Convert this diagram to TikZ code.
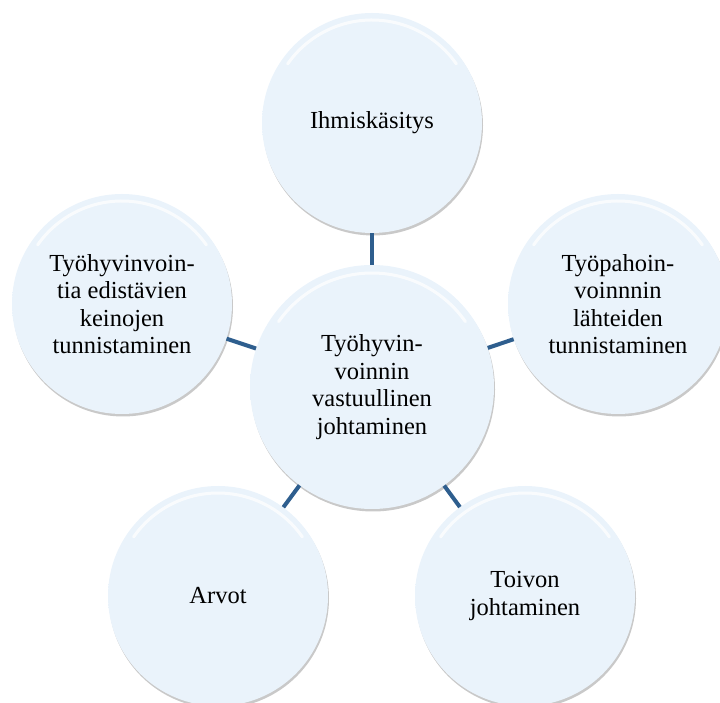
\documentclass[tikz,border=0pt]{standalone}
\usepackage{fontspec}
\setmainfont{Liberation Serif}
\usetikzlibrary{shadows}
\definecolor{cfill}{RGB}{234,243,251}
\definecolor{cedge}{RGB}{140,155,178}
\definecolor{clink}{RGB}{46,94,142}
\pgfdeclareradialshading{bevel}{\pgfpoint{0bp}{0bp}}{color(0bp)=(cfill); color(44bp)=(cfill); color(47bp)=(cfill!75!cedge); color(49.5bp)=(cedge); color(50bp)=(cedge)}
\tikzset{
  bub/.style={circle, shading=bevel, align=center, inner sep=0pt,
    font=\fontsize{24.5}{27.5}\selectfont,
    drop shadow={shadow xshift=1pt, shadow yshift=-2.5pt, opacity=0.3, fill=black!70}},
  small/.style={bub, minimum size=220pt},
  big/.style={bub, minimum size=244pt},
  link/.style={draw=clink, line width=4pt},
  hl/.style={draw=white, line width=3pt, opacity=0.75, line cap=round}
}
\begin{document}
\begin{tikzpicture}[x=1pt,y=1pt]
\useasboundingbox (0,0) rectangle (720,703);
\clip (0,0) rectangle (720,703);
\node[big]   (c)  at (372,316) {Työhyvin-\\voinnin\\vastuullinen\\johtaminen};
\node[small] (t)  at (372,580) {Ihmiskäsitys};
\node[small] (l)  at (122,399) {Työhyvinvoin-\\tia edistävien\\keinojen\\tunnistaminen};
\node[small] (r)  at (618,399) {Työpahoin-\\voinnnin\\lähteiden\\tunnistaminen};
\node[small] (bl) at (218,107) {Arvot};
\node[small] (br) at (525,107) {Toivon\\johtaminen};
\foreach \n/\rr in {c/114, t/103, l/103, r/103, bl/103, br/103}
  \draw[hl] (\n.center) ++(145:\rr) arc[start angle=145, end angle=35, radius=\rr];
\draw[link] (c) -- (t);
\draw[link] (c) -- (l);
\draw[link] (c) -- (r);
\draw[link] (c) -- (bl);
\draw[link] (c) -- (br);
\end{tikzpicture}
\end{document}
